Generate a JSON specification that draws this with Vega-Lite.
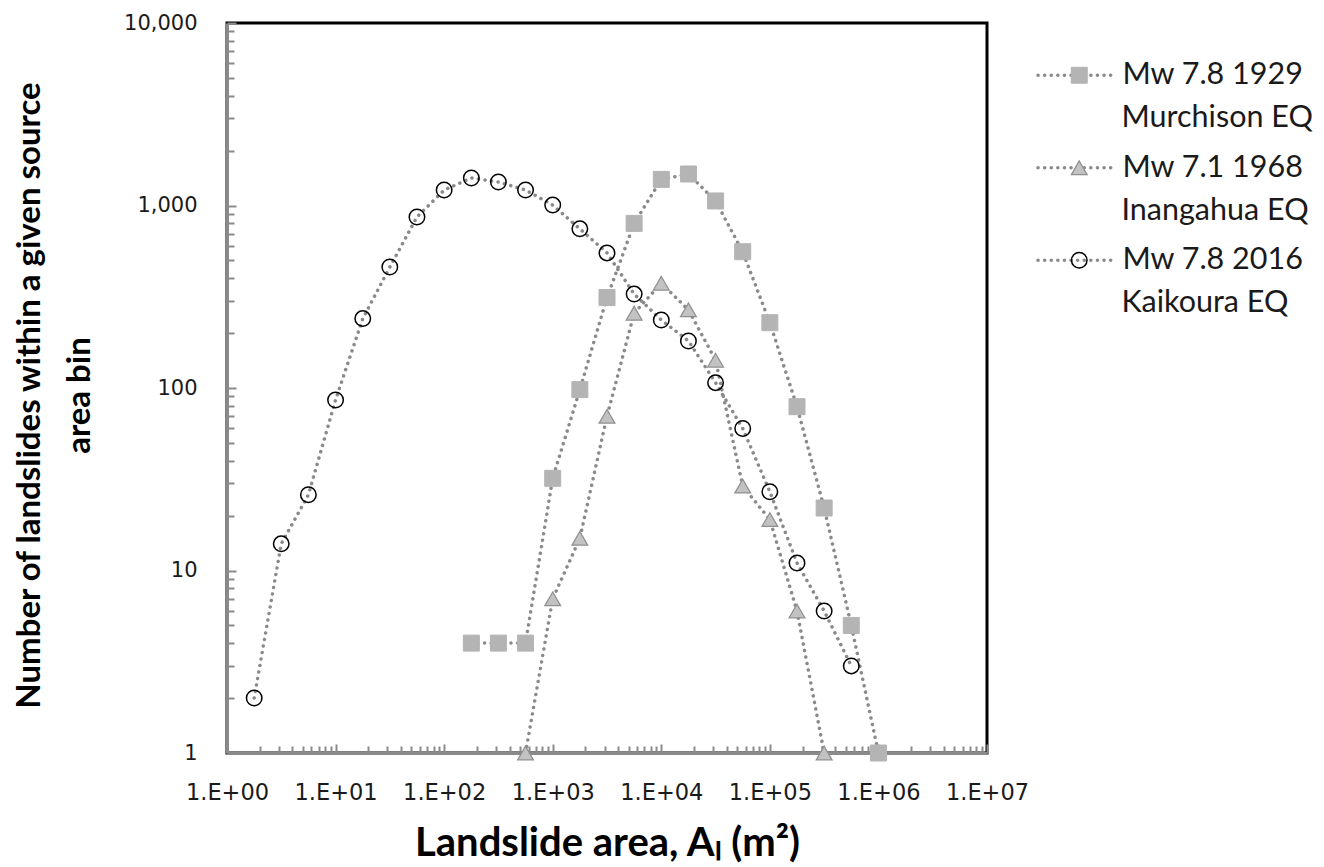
{
  "$schema": "https://vega.github.io/schema/vega-lite/v6.json",
  "width": 760,
  "height": 730,
  "autosize": {"type": "none"},
  "padding": {"left": 227, "top": 23, "right": 337, "bottom": 114},
  "background": "white",
  "config": {"view": {"stroke": "#000000", "strokeWidth": 3}},
  "data": {
    "values": [
      {"series": "Mw 7.8 1929 Murchison EQ", "area": 178, "count": 4},
      {"series": "Mw 7.8 1929 Murchison EQ", "area": 316, "count": 4},
      {"series": "Mw 7.8 1929 Murchison EQ", "area": 562, "count": 4},
      {"series": "Mw 7.8 1929 Murchison EQ", "area": 1000, "count": 32},
      {"series": "Mw 7.8 1929 Murchison EQ", "area": 1778, "count": 98},
      {"series": "Mw 7.8 1929 Murchison EQ", "area": 3162, "count": 313},
      {"series": "Mw 7.8 1929 Murchison EQ", "area": 5623, "count": 798},
      {"series": "Mw 7.8 1929 Murchison EQ", "area": 10000, "count": 1390},
      {"series": "Mw 7.8 1929 Murchison EQ", "area": 17783, "count": 1488},
      {"series": "Mw 7.8 1929 Murchison EQ", "area": 31623, "count": 1059},
      {"series": "Mw 7.8 1929 Murchison EQ", "area": 56234, "count": 558},
      {"series": "Mw 7.8 1929 Murchison EQ", "area": 100000, "count": 228},
      {"series": "Mw 7.8 1929 Murchison EQ", "area": 177828, "count": 79},
      {"series": "Mw 7.8 1929 Murchison EQ", "area": 316228, "count": 22},
      {"series": "Mw 7.8 1929 Murchison EQ", "area": 562341, "count": 5},
      {"series": "Mw 7.8 1929 Murchison EQ", "area": 1000000, "count": 1},
      {"series": "Mw 7.1 1968 Inangahua EQ", "area": 562, "count": 1},
      {"series": "Mw 7.1 1968 Inangahua EQ", "area": 1000, "count": 7},
      {"series": "Mw 7.1 1968 Inangahua EQ", "area": 1778, "count": 15},
      {"series": "Mw 7.1 1968 Inangahua EQ", "area": 3162, "count": 70},
      {"series": "Mw 7.1 1968 Inangahua EQ", "area": 5623, "count": 257},
      {"series": "Mw 7.1 1968 Inangahua EQ", "area": 10000, "count": 375},
      {"series": "Mw 7.1 1968 Inangahua EQ", "area": 17783, "count": 268},
      {"series": "Mw 7.1 1968 Inangahua EQ", "area": 31623, "count": 142},
      {"series": "Mw 7.1 1968 Inangahua EQ", "area": 56234, "count": 29},
      {"series": "Mw 7.1 1968 Inangahua EQ", "area": 100000, "count": 19},
      {"series": "Mw 7.1 1968 Inangahua EQ", "area": 177828, "count": 6},
      {"series": "Mw 7.1 1968 Inangahua EQ", "area": 316228, "count": 1},
      {"series": "Mw 7.8 2016 Kaikoura EQ", "area": 1.78, "count": 2},
      {"series": "Mw 7.8 2016 Kaikoura EQ", "area": 3.16, "count": 14},
      {"series": "Mw 7.8 2016 Kaikoura EQ", "area": 5.62, "count": 26},
      {"series": "Mw 7.8 2016 Kaikoura EQ", "area": 10, "count": 86},
      {"series": "Mw 7.8 2016 Kaikoura EQ", "area": 17.8, "count": 240},
      {"series": "Mw 7.8 2016 Kaikoura EQ", "area": 31.6, "count": 460},
      {"series": "Mw 7.8 2016 Kaikoura EQ", "area": 56.2, "count": 865},
      {"series": "Mw 7.8 2016 Kaikoura EQ", "area": 100, "count": 1215},
      {"series": "Mw 7.8 2016 Kaikoura EQ", "area": 178, "count": 1415},
      {"series": "Mw 7.8 2016 Kaikoura EQ", "area": 316, "count": 1345},
      {"series": "Mw 7.8 2016 Kaikoura EQ", "area": 562, "count": 1215},
      {"series": "Mw 7.8 2016 Kaikoura EQ", "area": 1000, "count": 1005},
      {"series": "Mw 7.8 2016 Kaikoura EQ", "area": 1778, "count": 745},
      {"series": "Mw 7.8 2016 Kaikoura EQ", "area": 3162, "count": 550},
      {"series": "Mw 7.8 2016 Kaikoura EQ", "area": 5623, "count": 327},
      {"series": "Mw 7.8 2016 Kaikoura EQ", "area": 10000, "count": 236},
      {"series": "Mw 7.8 2016 Kaikoura EQ", "area": 17783, "count": 181},
      {"series": "Mw 7.8 2016 Kaikoura EQ", "area": 31623, "count": 107},
      {"series": "Mw 7.8 2016 Kaikoura EQ", "area": 56234, "count": 60},
      {"series": "Mw 7.8 2016 Kaikoura EQ", "area": 100000, "count": 27},
      {"series": "Mw 7.8 2016 Kaikoura EQ", "area": 177828, "count": 11},
      {"series": "Mw 7.8 2016 Kaikoura EQ", "area": 316228, "count": 6},
      {"series": "Mw 7.8 2016 Kaikoura EQ", "area": 562341, "count": 3}
    ]
  },
  "encoding": {
    "x": {
      "field": "area",
      "type": "quantitative",
      "scale": {"type": "log", "domain": [1, 10000000], "nice": false},
      "axis": {
        "values": [1,2,3,4,5,6,7,8,9,10,20,30,40,50,60,70,80,90,100,200,300,400,500,600,700,800,900,1000,2000,3000,4000,5000,6000,7000,8000,9000,10000,20000,30000,40000,50000,60000,70000,80000,90000,100000,200000,300000,400000,500000,600000,700000,800000,900000,1000000,2000000,3000000,4000000,5000000,6000000,7000000,8000000,9000000,10000000],
        "labelExpr": "abs(log(datum.value)/LN10 - round(log(datum.value)/LN10)) < 0.000001 ? '1.E+0' + round(log(datum.value)/LN10) : ''",
        "tickSize": {"condition": {"test": "abs(log(datum.value)/LN10 - round(log(datum.value)/LN10)) < 0.000001", "value": -9}, "value": -7},
        "grid": false,
        "domainColor": "#8a8a8a",
        "domainWidth": 3,
        "tickColor": "#8a8a8a",
        "tickWidth": 2,
        "labelFont": "DejaVu Sans",
        "labelFontSize": 22.5,
        "labelColor": "#1a1a1a",
        "labelPadding": 37,
        "labelOverlap": false,
        "labelFlush": false,
        "labelBound": false,
        "title": "Landslide area, Aₗ (m²)",
        "titleFont": "Lato",
        "titleFontWeight": "bold",
        "titleFontSize": 40,
        "titleColor": "#000000",
        "titlePadding": 18
      }
    },
    "y": {
      "field": "count",
      "type": "quantitative",
      "scale": {"type": "log", "domain": [1, 10000], "nice": false},
      "axis": {
        "values": [1,2,3,4,5,6,7,8,9,10,20,30,40,50,60,70,80,90,100,200,300,400,500,600,700,800,900,1000,2000,3000,4000,5000,6000,7000,8000,9000,10000],
        "labelExpr": "abs(log(datum.value)/LN10 - round(log(datum.value)/LN10)) < 0.000001 ? format(datum.value, ',') : ''",
        "tickSize": {"condition": {"test": "abs(log(datum.value)/LN10 - round(log(datum.value)/LN10)) < 0.000001", "value": -9}, "value": -7},
        "grid": false,
        "domainColor": "#8a8a8a",
        "domainWidth": 3,
        "tickColor": "#8a8a8a",
        "tickWidth": 2,
        "labelFont": "DejaVu Sans",
        "labelFontSize": 21,
        "labelColor": "#1a1a1a",
        "labelPadding": 39,
        "labelOverlap": false,
        "labelFlush": false,
        "labelBound": false,
        "title": ["Number of landslides within a given source", "area bin"],
        "titleFont": "Lato",
        "titleFontWeight": "bold",
        "titleFontSize": 33,
        "titleLineHeight": 50,
        "titleColor": "#000000",
        "titlePadding": 27,
        "titleY": 372
      }
    }
  },
  "layer": [
    {
      "transform": [{"calculate": "datum.series", "as": "event"}],
      "mark": {"type": "line", "strokeCap": "round", "strokeWidth": 3.5, "color": "#8a8a8a"},
      "encoding": {
        "detail": {"field": "series"},
        "strokeDash": {
          "field": "event",
          "type": "nominal",
          "scale": {"range": [[0.1, 6.5], [0.1, 6.5], [0.1, 6.5]]},
          "legend": {
            "orient": "none",
            "legendX": 809,
            "legendY": 37,
            "title": null,
            "padding": 0,
            "symbolType": "stroke",
            "symbolSize": 5625,
            "symbolStrokeColor": "#8a8a8a",
            "symbolStrokeWidth": 3.5,
            "labelOpacity": 0,
            "labelFont": "Lato",
            "labelFontSize": 30.5,
            "labelLimit": 400,
            "labelOffset": 10,
            "rowPadding": 61.5,
            "clipHeight": 30.5,
            "labelExpr": "slice(datum.label, 0, 11)",
            "encode": {
              "symbols": {"update": {"strokeCap": {"value": "round"}}}
            }
          }
        }
      }
    },
    {
      "mark": {"type": "point", "opacity": 1},
      "encoding": {
        "shape": {
          "field": "series",
          "type": "nominal",
          "scale": {
            "domain": ["Mw 7.8 1929 Murchison EQ", "Mw 7.1 1968 Inangahua EQ", "Mw 7.8 2016 Kaikoura EQ"],
            "range": ["square", "triangle-up", "circle"]
          },
          "legend": {
            "orient": "none",
            "legendX": 837,
            "legendY": 37,
            "title": null,
            "padding": 0,
            "labelFont": "Lato",
            "labelFontSize": 30.5,
            "labelColor": "#1a1a1a",
            "labelLimit": 400,
            "labelOffset": 28,
            "rowPadding": 61.5,
            "labelExpr": "slice(datum.label, 0, 11)"
          }
        },
        "opacity": {
          "field": "series",
          "type": "nominal",
          "sort": ["Mw 7.8 1929 Murchison EQ", "Mw 7.1 1968 Inangahua EQ", "Mw 7.8 2016 Kaikoura EQ"],
          "scale": {"range": [1, 1, 1]},
          "legend": {
            "orient": "none",
            "legendX": 864,
            "legendY": 80,
            "title": null,
            "padding": 0,
            "symbolSize": 0,
            "symbolOpacity": 0,
            "symbolStrokeWidth": 0,
            "labelFont": "Lato",
            "labelFontSize": 30.5,
            "labelColor": "#1a1a1a",
            "labelLimit": 400,
            "labelOffset": 0,
            "rowPadding": 61.5,
            "labelExpr": "slice(datum.label, 12)"
          }
        },
        "size": {
          "field": "series",
          "type": "nominal",
          "scale": {
            "domain": ["Mw 7.8 1929 Murchison EQ", "Mw 7.1 1968 Inangahua EQ", "Mw 7.8 2016 Kaikoura EQ"],
            "range": [256, 240, 225]
          }
        },
        "fill": {
          "field": "series",
          "type": "nominal",
          "scale": {
            "domain": ["Mw 7.8 1929 Murchison EQ", "Mw 7.1 1968 Inangahua EQ", "Mw 7.8 2016 Kaikoura EQ"],
            "range": ["#b4b4b4", "#c2c2c2", "rgba(255,255,255,0)"]
          }
        },
        "stroke": {
          "field": "series",
          "type": "nominal",
          "scale": {
            "domain": ["Mw 7.8 1929 Murchison EQ", "Mw 7.1 1968 Inangahua EQ", "Mw 7.8 2016 Kaikoura EQ"],
            "range": ["#b4b4b4", "#8f8f8f", "#000000"]
          }
        },
        "strokeWidth": {
          "field": "series",
          "type": "nominal",
          "scale": {
            "domain": ["Mw 7.8 1929 Murchison EQ", "Mw 7.1 1968 Inangahua EQ", "Mw 7.8 2016 Kaikoura EQ"],
            "range": [1, 1.5, 2.6]
          }
        }
      }
    }
  ]
}
